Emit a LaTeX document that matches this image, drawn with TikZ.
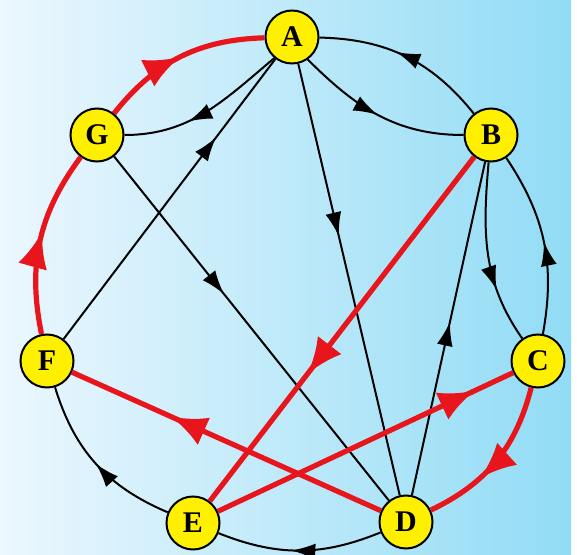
\documentclass[tikz,border=0pt]{standalone}
\usepackage{fontspec}
\setmainfont{Liberation Serif}
\usetikzlibrary{arrows.meta,decorations.markings}

\definecolor{bgleft}{RGB}{236,247,254}
\definecolor{bgright}{RGB}{145,220,245}
\definecolor{hotred}{RGB}{232,22,28}
\definecolor{nodeyellow}{RGB}{255,240,0}

\tikzset{
  vertex/.style={circle,draw=black,line width=1pt,fill=nodeyellow,minimum size=26.5pt,
    inner sep=0pt,font=\fontsize{15}{15}\selectfont\bfseries},
  link/.style={black,line width=1pt,postaction={decorate},
    decoration={markings,mark=at position #1 with {\arrow{Latex[length=12pt,width=8pt]}}}},
  link/.default=0.5,
  redlink/.style={hotred,line width=2.6pt,postaction={decorate},
    decoration={markings,mark=at position #1 with {\arrow{Latex[length=18pt,width=15pt]}}}},
  redlink/.default=0.5
}

\begin{document}
\begin{tikzpicture}[x=0.5pt,y=-0.5pt]
  \useasboundingbox (0,0) rectangle (577,555);
  \shade[left color=bgleft,right color=bgright] (0,0) rectangle (571,555);

  % vertices
  \node[vertex] (A) at (292,37) {A};
  \node[vertex] (B) at (491,135) {B};
  \node[vertex] (C) at (538,361) {C};
  \node[vertex] (D) at (406,522) {D};
  \node[vertex] (E) at (193,523) {E};
  \node[vertex] (F) at (47,361) {F};
  \node[vertex] (G) at (97,135) {G};

  % black arcs
  \draw[link=0.56] (B) to[bend right=25] (A);
  \draw[link=0.5] (A.-55) to[out=-45,in=180] (B.west);
  \draw[link=0.62] (A.-130) to[out=220,in=0] (G.east);
  \draw[link=0.72] (F) -- (A);
  \draw[link=0.4] (G) -- (D);
  \draw[link=0.4] (A) -- (D);
  \draw[link=0.52] (D) -- (B);
  \draw[link=0.7] (B.-95) to[out=-95,in=125] (C.125);
  \draw[link] (C) to[bend right=22] (B);
  \draw[link] (E) to[bend left=25] (F);
  \draw[link=0.55] (D) to[bend left=22] (E);

  % red path
  \draw[redlink=0.5] (G) to[bend left=25] (A);
  \draw[redlink=0.55] (F) to[bend left=24] (G);
  \draw[redlink=0.63] (B) -- (E);
  \draw[redlink=0.68] (D) -- (F);
  \draw[redlink=0.87] (E) -- (C);
  \draw[redlink=0.64] (C) to[bend left=25] (D);
\end{tikzpicture}
\end{document}
